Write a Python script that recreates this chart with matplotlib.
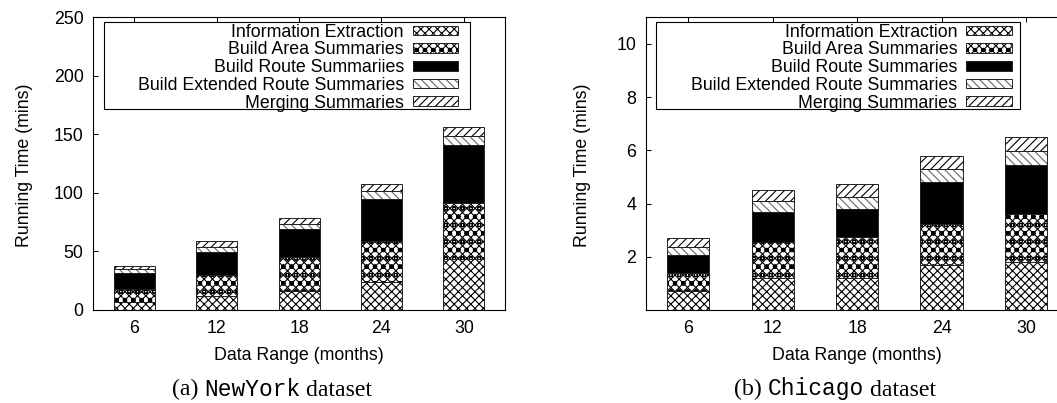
import matplotlib
matplotlib.use("Agg")
import matplotlib.pyplot as plt
from matplotlib.patches import Rectangle
from matplotlib.legend_handler import HandlerTuple
from matplotlib.offsetbox import TextArea, HPacker, AnchoredOffsetbox

plt.rcParams["font.family"] = ["Liberation Sans", "DejaVu Sans"]
plt.rcParams["hatch.linewidth"] = 0.8

# ---- data -------------------------------------------------------------
months = [6, 12, 18, 24, 30]

stages_ny = ["Information Extraction", "Build Area Summaries",
             "Build Route Summariies", "Build Extended Route Summaries",
             "Merging Summaries"]
stages_chi = ["Information Extraction", "Build Area Summaries",
              "Build Route Summaries", "Build Extended Route Summaries",
              "Merging Summaries"]

# NewYork running time per stage (mins)
ny_extraction = [6.5, 11.9, 15.9, 23.8, 43.3]
ny_area = [11.3, 18.1, 29.1, 35.5, 48.5]
ny_route = [13.9, 19.5, 24.0, 35.9, 49.2]
ny_extended = [3.1, 4.5, 4.8, 6.1, 7.6]
ny_merging = [3.0, 4.9, 5.0, 6.5, 7.7]

# Chicago running time per stage (mins)
chi_extraction = [0.71, 1.21, 1.21, 1.69, 1.79]
chi_area = [0.67, 1.33, 1.52, 1.56, 1.82]
chi_route = [0.69, 1.14, 1.08, 1.56, 1.84]
chi_extended = [0.31, 0.40, 0.45, 0.48, 0.52]
chi_merging = [0.32, 0.42, 0.47, 0.50, 0.52]

ny_ticks = [0, 50, 100, 150, 200, 250]
chi_ticks = [2, 4, 6, 8, 10]

# ---- styles (one per stage) --------------------------------------------
STYLES = [
    dict(face="white", hatch="xxxx", hcol="black"),
    dict(face="white", hatch="xxxxoo", hcol="black"),
    dict(face="black", hatch=None, hcol="black"),
    dict(face="white", hatch="\\\\\\\\", hcol="#666666"),
    dict(face="white", hatch="////", hcol="black"),
]

FS = 12.8
W, H = 1057, 403
fig = plt.figure(figsize=(W / 100, H / 100), dpi=100)


def px_axes(x0, x1, y_top, y_bot):
    return fig.add_axes([x0 / W, (H - y_bot) / H, (x1 - x0) / W, (y_bot - y_top) / H])


def stacked(ax, series, labels, ylim, yticks, legend_frame, handle_right, ylab_x):
    bottom = [0.0] * len(months)
    handles = []
    for vals, st in zip(series, STYLES):
        filled = ax.bar(months, vals, width=3, bottom=bottom, facecolor=st["face"],
                        edgecolor=st["hcol"], hatch=st["hatch"], linewidth=0, zorder=2)
        outline = ax.bar(months, vals, width=3, bottom=bottom, fill=False,
                         edgecolor="#222222", linewidth=0.7, zorder=3)
        handles.append((filled, outline))
        bottom = [b + v for b, v in zip(bottom, vals)]

    ax.set_xlim(3, 33)
    ax.set_ylim(*ylim)
    ax.set_xticks(months)
    ax.set_yticks(yticks)
    ax.tick_params(axis="both", direction="in", length=3.6, width=0.75,
                   labelsize=FS, top=True, right=False)
    ax.tick_params(axis="y", pad=7)
    ax.tick_params(axis="x", pad=7.5)
    for s in ax.spines.values():
        s.set_linewidth(0.8)

    ax.set_xlabel("Data Range (months)", fontsize=FS, va="center")
    ax.xaxis.set_label_coords(0.5, -0.157)
    ax.set_ylabel("Running Time (mins)", fontsize=FS, va="center")
    ax.yaxis.set_label_coords(ylab_x, 0.495)

    fx0, fx1, fy0, fy1 = legend_frame
    ax.add_patch(Rectangle((fx0, fy0), fx1 - fx0, fy1 - fy0, transform=ax.transAxes,
                           fill=False, edgecolor="black", linewidth=0.8, zorder=4))
    ax.legend(handles, labels, handler_map={tuple: HandlerTuple(ndivide=1, pad=0)},
              loc="upper right", bbox_to_anchor=(handle_right, 0.978),
              bbox_transform=ax.transAxes, frameon=False, markerfirst=False,
              fontsize=FS, handlelength=2.56, handleheight=0.45,
              handletextpad=0.5, labelspacing=0.04, borderpad=0, borderaxespad=0)


ax1 = px_axes(93.3, 505.0, 17.3, 310.0)
stacked(ax1, [ny_extraction, ny_area, ny_route, ny_extended, ny_merging], stages_ny,
        (0, 250), ny_ticks, (0.0267, 0.915, 0.686, 0.983), 0.8866, -0.168)

ax2 = px_axes(646.1, 1068.2, 17.3, 310.0)
stacked(ax2, [chi_extraction, chi_area, chi_route, chi_extended, chi_merging], stages_chi,
        (0, 11), chi_ticks, (0.0235, 0.8855, 0.686, 0.985), 0.866, -0.1495)


def caption(tag, name, cx, cy):
    serif = dict(family="Liberation Serif", size=17.2)
    mono = dict(family="Liberation Mono", size=16.5)
    box = HPacker(children=[TextArea(tag + " ", textprops=serif),
                            TextArea(name, textprops=mono),
                            TextArea(" dataset", textprops=serif)],
                  align="baseline", pad=0, sep=0)
    anchored = AnchoredOffsetbox(loc="center", child=box, frameon=False, pad=0, borderpad=0,
                                 bbox_to_anchor=(cx / W, (H - cy) / H),
                                 bbox_transform=fig.transFigure)
    fig.add_artist(anchored)


caption("(a)", "NewYork", 272, 389)
caption("(b)", "Chicago", 835, 389)

fig.savefig("out.png", dpi=100)
